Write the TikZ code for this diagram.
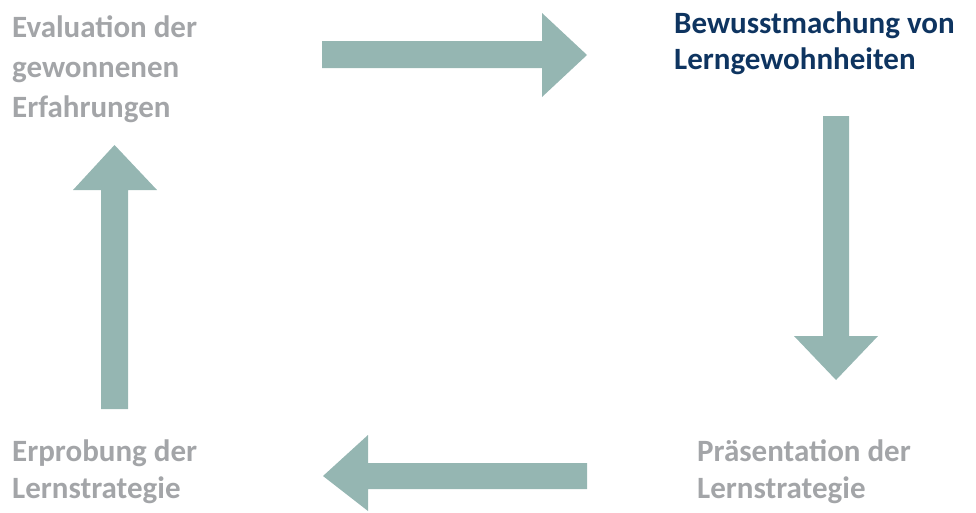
\documentclass[tikz,border=0pt]{standalone}
\usepackage{fontspec}
\setmainfont{Carlito}
\definecolor{arrowc}{HTML}{95B6B2}
\definecolor{grayt}{HTML}{A3A5A8}
\definecolor{bluet}{HTML}{0E3460}
\begin{document}
\begin{tikzpicture}[x=1pt,y=-1pt,
  lbl/.style={anchor=base west,inner sep=0pt,align=left,font=\fontsize{31}{37}\selectfont\bfseries},
  blockarrow/.style={fill=arrowc,draw=none}]
\useasboundingbox (0,0) rectangle (976,512);
% labels (anchor = baseline of last line)
\node[lbl,text=grayt,font=\fontsize{31}{40}\selectfont\bfseries] (eval) at (12,117) {Evaluation der\\gewonnenen\\Erfahrungen};
\node[lbl,text=bluet,font=\fontsize{31}{36}\selectfont\bfseries] (bew) at (674,69) {Bewusstmachung von\\Lerngewohnheiten};
\node[lbl,text=grayt] (praes) at (697,498) {Präsentation der\\Lernstrategie};
\node[lbl,text=grayt] (erpr) at (12,498) {Erprobung der\\Lernstrategie};
% block arrows
\fill[blockarrow] (322,41) -- (542,41) -- (542,13) -- (587,55) -- (542,97) -- (542,68) -- (322,68) -- cycle;
\fill[blockarrow] (823,116) -- (849,116) -- (849,336) -- (878,336) -- (836,380) -- (794,336) -- (823,336) -- cycle;
\fill[blockarrow] (587,463) -- (368,463) -- (368,435) -- (323,476) -- (368,511) -- (368,489) -- (587,489) -- cycle;
\fill[blockarrow] (101,409) -- (101,190) -- (73,190) -- (114.5,145) -- (157,190) -- (128,190) -- (128,409) -- cycle;
\end{tikzpicture}
\end{document}
